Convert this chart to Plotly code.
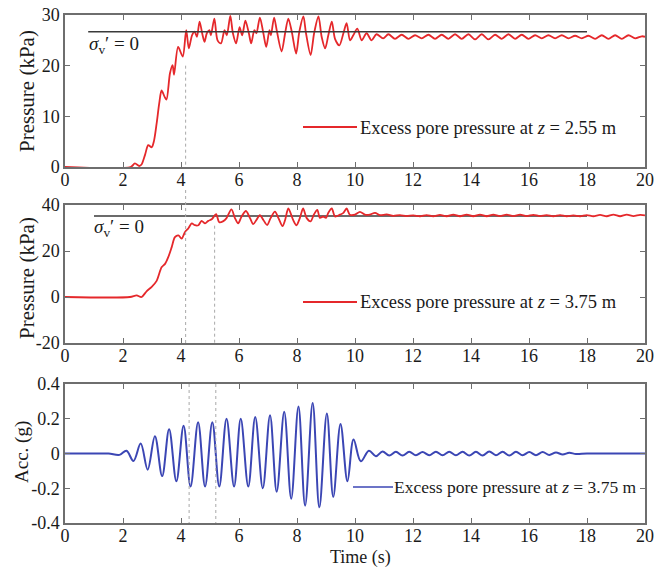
import plotly.graph_objects as go

# ---------------- data ----------------
# Excess pore pressure at z = 2.55 m (kPa)
t_p1 = [0, 2.26, 2.41, 2.56, 2.64, 2.76, 2.87, 2.99, 3.07, 3.16, 3.25, 3.33, 3.44, 3.5,
        3.62, 3.71, 3.76, 3.9, 4.06, 4.18, 4.27, 4.38, 4.47, 4.55, 4.64, 4.73, 4.81, 4.89,
        4.98, 5.03, 5.15, 5.26, 5.38, 5.5, 5.58, 5.7, 5.79, 5.9, 6.02, 6.11, 6.22, 6.34,
        6.42, 6.53, 6.6, 6.72, 6.84, 6.94, 7.05, 7.1, 7.21, 7.3, 7.47, 7.59, 7.7, 7.82,
        7.97, 8.08, 8.22, 8.31, 8.47, 8.59, 8.74, 8.85, 8.97, 9.08, 9.2, 9.31, 9.46, 9.6,
        9.71, 9.83, 9.94, 10.08, 10.23, 10.4, 10.57, 10.74, 10.97, 11.15, 11.38, 11.61,
        11.84, 12.07, 12.3, 12.53, 12.76, 12.99, 13.22, 13.45, 13.68, 13.91, 14.14, 14.37,
        14.6, 14.83, 15.06, 15.29, 15.52, 15.75, 15.98, 16.21, 16.44, 16.67, 16.9, 17.13,
        17.36, 17.59, 17.82, 18.05, 18.28, 18.51, 18.74, 18.97, 19.2, 19.43, 19.66, 19.89, 20]
p1 = [0, 0, 0.7, 0.2, 0.5, 2.4, 4.3, 3.9, 5.2, 8.6, 12.6, 15.1, 13.8, 13.3,
      18.5, 20.1, 18.2, 23.7, 21.8, 27.0, 23.4, 26.0, 26.7, 25.7, 28.7, 26.4, 24.7, 26.4,
      27.0, 26.0, 29.3, 25.0, 24.4, 27.0, 26.0, 29.8, 26.4, 24.4, 27.6, 26.0, 28.9, 26.4,
      24.4, 27.0, 26.4, 29.5, 26.4, 23.7, 27.0, 26.0, 29.5, 27.0, 22.8, 26.4, 29.3, 26.7,
      22.4, 26.7, 29.7, 26.4, 22.1, 26.4, 29.7, 25.7, 23.4, 26.0, 28.7, 25.3, 24.0, 26.4,
      28.4, 25.0, 26.0, 27.3, 25.0, 26.4, 25.0, 26.2, 25.4, 26.2, 25.3, 26.1,
      25.3, 26.0, 25.4, 26.1, 25.3, 26.1, 25.3, 26.2, 25.3, 26.2, 25.2, 26.2,
      25.2, 26.1, 25.3, 26.2, 25.3, 26.1, 25.3, 26.0, 25.4, 26.0, 25.4, 26.0,
      25.4, 25.9, 25.4, 25.9, 25.3, 26.0, 25.3, 26.0, 25.3, 26.0, 25.4, 25.8, 25.7]

# Excess pore pressure at z = 3.75 m (kPa)
t_p2 = [0, 2.24, 2.47, 2.64, 2.82, 2.99, 3.16, 3.33, 3.45, 3.56, 3.68, 3.79, 3.91, 4.02,
        4.14, 4.25, 4.37, 4.48, 4.6, 4.71, 4.83, 4.94, 5.06, 5.21, 5.32, 5.46, 5.57, 5.74,
        5.86, 5.97, 6.09, 6.24, 6.38, 6.49, 6.6, 6.72, 6.84, 6.97, 7.09, 7.24, 7.36, 7.5,
        7.59, 7.7, 7.87, 7.98, 8.1, 8.21, 8.33, 8.47, 8.58, 8.7, 8.79, 8.9, 9.0, 9.08, 9.2,
        9.31, 9.48, 9.6, 9.71, 9.82, 10.0, 10.17, 10.34, 10.51, 10.69, 10.86, 11.09, 11.32,
        11.55, 11.78, 12.01, 12.24, 12.47, 12.7, 12.93, 13.16, 13.39, 13.62, 13.85, 14.08,
        14.31, 14.54, 14.77, 15.0, 15.23, 15.46, 15.69, 15.92, 16.15, 16.38, 16.61, 16.84,
        17.07, 17.3, 17.53, 17.76, 17.99, 18.22, 18.45, 18.68, 18.91, 19.14, 19.37, 19.6,
        19.83, 20]
p2 = [0, 0, 0.7, 0, 2.6, 4.4, 7.0, 12.9, 14.4, 17.3, 21.7, 26.0, 26.8, 25.4,
      28.3, 29.8, 32.0, 31.2, 31.2, 33.1, 32.0, 33.1, 33.8, 36.0, 32.5, 33.0, 34.3, 38.1,
      34.3, 32.0, 35.0, 37.4, 34.3, 31.7, 33.5, 35.6, 33.5, 31.3, 34.3, 37.1, 34.3, 30.8,
      33.5, 38.5, 33.4, 31.2, 34.4, 38.5, 34.4, 32.9, 35.8, 37.9, 34.4, 35.0, 34.4, 36.6, 38.5,
      35.0, 35.8, 36.6, 38.5, 35.8, 35.8, 37.0, 35.8, 35.8, 36.6, 35.6, 35.9, 35.3,
      35.6, 35.2, 35.5, 35.1, 35.6, 35.1, 35.7, 35.1, 35.8, 35.1, 35.8, 35.1,
      35.8, 35.1, 35.8, 35.2, 35.8, 35.2, 35.8, 35.2, 35.7, 35.2, 35.6, 35.1,
      35.6, 35.1, 35.5, 35.1, 35.6, 35.1, 35.7, 35.1, 35.8, 35.1, 35.8, 35.2,
      35.7, 35.5]

# Acceleration (g)
t_acc = [0, 1.0, 1.5, 1.88, 2.12, 2.36, 2.61, 2.85, 3.1, 3.35, 3.59, 3.84, 4.09, 4.33,
         4.59, 4.83, 5.08, 5.32, 5.57, 5.83, 6.06, 6.32, 6.56, 6.82, 7.07, 7.3, 7.56, 7.8,
         8.05, 8.28, 8.54, 8.77, 9.03, 9.25, 9.5, 9.74, 9.95, 10.2, 10.48, 10.72, 10.95,
         11.18, 11.41, 11.64, 11.87, 12.1, 12.33, 12.56, 12.79, 13.02, 13.25, 13.48, 13.71,
         13.94, 14.17, 14.4, 14.63, 14.86, 15.09, 15.32, 15.55, 15.78, 16.01, 16.24, 16.47,
         16.7, 16.93, 17.16, 17.39, 17.62, 18.0, 19.0, 20]
acc = [0, 0, 0, -0.008, 0.016, -0.043, 0.057, -0.093, 0.1, -0.13, 0.14, -0.16, 0.16, -0.19,
       0.18, -0.19, 0.18, -0.19, 0.2, -0.19, 0.2, -0.19, 0.21, -0.2, 0.22, -0.22, 0.24, -0.26,
       0.27, -0.3, 0.29, -0.31, 0.23, -0.25, 0.17, -0.16, 0.08, -0.045, 0.016, -0.016, 0.012,
       -0.012, 0.01, -0.012, 0.01, -0.01, 0.008, -0.01, 0.01, -0.01, 0.01, -0.01, 0.01,
       -0.012, 0.01, -0.012, 0.012, -0.01, 0.01, -0.012, 0.01, -0.01, 0.008, -0.01, 0.008,
       -0.008, 0.006, -0.006, 0.004, -0.003, 0, 0, 0]

# sigma_v' = 0 reference levels
sig1_t = [0.8, 18.0]
sig1_p = [26.7, 26.7]
sig2_t = [1.0, 18.0]
sig2_p = [35.2, 35.2]

x_ticks = [0, 2, 4, 6, 8, 10, 12, 14, 16, 18, 20]
y1_ticks = [0, 10, 20, 30]
y2_ticks = [-20, 0, 20, 40]
y2_text = ["-20", "0", "20", "40"]
y3_ticks = [-0.4, -0.2, 0, 0.2, 0.4]
y3_text = ["-0.4", "-0.2", "0", "0.2", "0.4"]

# ---------------- figure ----------------
RED = "#e5282b"
BLUE = "#3b46b4"
FONT = "Liberation Serif"
AX = "#6e6e6e"

# geometry helpers (pixels -> paper)
W, H = 665, 569
L, R, T, B = 65, 20, 15, 46
PW, PH = W - L - R, H - T - B


def px(x):
    return (x - L) / PW


def py(y):
    return (H - B - y) / PH


fig = go.Figure()
fig.add_trace(go.Scatter(x=t_p1, y=p1, mode="lines", xaxis="x", yaxis="y",
                         line=dict(color=RED, width=1.8, shape="spline", smoothing=0.8),
                         name="Excess pore pressure at z = 2.55 m", showlegend=False))
fig.add_trace(go.Scatter(x=sig1_t, y=sig1_p, mode="lines", xaxis="x", yaxis="y",
                         line=dict(color="#3a3a3a", width=1.5), showlegend=False))
fig.add_trace(go.Scatter(x=sig2_t, y=sig2_p, mode="lines", xaxis="x2", yaxis="y2",
                         line=dict(color="#3a3a3a", width=1.5), showlegend=False))
fig.add_trace(go.Scatter(x=t_p2, y=p2, mode="lines", xaxis="x2", yaxis="y2",
                         line=dict(color=RED, width=1.8, shape="spline", smoothing=0.8),
                         name="Excess pore pressure at z = 3.75 m", showlegend=False))
fig.add_trace(go.Scatter(x=t_acc, y=acc, mode="lines", xaxis="x3", yaxis="y3",
                         line=dict(color=BLUE, width=2, shape="spline", smoothing=1),
                         name="Acc.", showlegend=False))

axis_common = dict(showline=True, linecolor=AX, linewidth=1.5, mirror="ticks",
                   ticks="inside", ticklen=5, tickcolor=AX, tickwidth=1.2,
                   showgrid=False, zeroline=False, automargin=False,
                   tickfont=dict(family=FONT, size=18, color="#1a1a1a"))
xax = dict(axis_common, domain=[0, 1], range=[0, 20], tickvals=x_ticks, ticklabelstandoff=-4)

dom1 = [py(167), py(15)]
dom2 = [py(343), py(205)]
dom3 = [py(523), py(384)]

fig.update_layout(
    width=W, height=H,
    margin=dict(l=L, r=R, t=T, b=B, autoexpand=False),
    paper_bgcolor="white", plot_bgcolor="white",
    font=dict(family=FONT, color="#1a1a1a"),
    xaxis=dict(xax, anchor="y"),
    yaxis=dict(axis_common, domain=dom1, anchor="x", range=[0, 30], tickvals=y1_ticks),
    xaxis2=dict(xax, anchor="y2"),
    yaxis2=dict(axis_common, domain=dom2, anchor="x2", range=[-20, 40], tickvals=y2_ticks,
                ticktext=y2_text),
    xaxis3=dict(xax, anchor="y3"),
    yaxis3=dict(axis_common, domain=dom3, anchor="x3", range=[-0.4, 0.4], tickvals=y3_ticks,
                ticktext=y3_text),
)

DOT = dict(color="#a8a8a8", width=1, dash="dot")
shapes = [
    dict(type="line", xref="x", yref="y", x0=4.16, x1=4.16, y0=20, y1=0, line=DOT),
    dict(type="line", xref="x2", yref="paper", x0=4.16, x1=4.16, y0=py(190), y1=py(343), line=DOT),
    dict(type="line", xref="x2", yref="y2", x0=5.16, x1=5.16, y0=31, y1=-20, line=DOT),
    dict(type="line", xref="x3", yref="y3", x0=4.28, x1=4.28, y0=0.4, y1=-0.4, line=DOT),
    dict(type="line", xref="x3", yref="y3", x0=5.2, x1=5.2, y0=0.4, y1=-0.4, line=DOT),
    # legend samples
    dict(type="line", xref="paper", yref="paper", x0=px(303), x1=px(357), y0=py(127), y1=py(127),
         line=dict(color=RED, width=1.8)),
    dict(type="line", xref="paper", yref="paper", x0=px(303), x1=px(357), y0=py(302), y1=py(302),
         line=dict(color=RED, width=1.8)),
    dict(type="line", xref="paper", yref="paper", x0=px(353), x1=px(393), y0=py(487), y1=py(487),
         line=dict(color=BLUE, width=1.5)),
]
fig.update_layout(shapes=shapes)


def note(text, x, y, size, xanchor="center", yanchor="middle", angle=0):
    return dict(text=text, xref="paper", yref="paper", x=px(x), y=py(y),
                xanchor=xanchor, yanchor=yanchor, textangle=angle, showarrow=False,
                font=dict(family=FONT, size=size, color="#1a1a1a"))


ann = [
    note("Pressure (kPa)", 27, 91, 21, angle=-90),
    note("Pressure (kPa)", 27, 278, 21, angle=-90),
    note("Acc. (g)", 22, 452, 19, angle=-90),
    note("Time (s)", 360, 557, 18),
    note("<i>σ</i><sub>v</sub>′ = 0", 87, 45, 19, xanchor="left"),
    note("<i>σ</i><sub>v</sub>′ = 0", 92, 228, 19, xanchor="left"),
    note("Excess pore pressure at <i>z</i> = 2.55 m", 358, 128, 18.5, xanchor="left"),
    note("Excess pore pressure at <i>z</i> = 3.75 m", 358, 302, 18.5, xanchor="left"),
    note("Excess pore pressure at <i>z</i> = 3.75 m", 392, 487, 17.5, xanchor="left"),
]
fig.update_layout(annotations=ann)

fig.write_html("out.html")
